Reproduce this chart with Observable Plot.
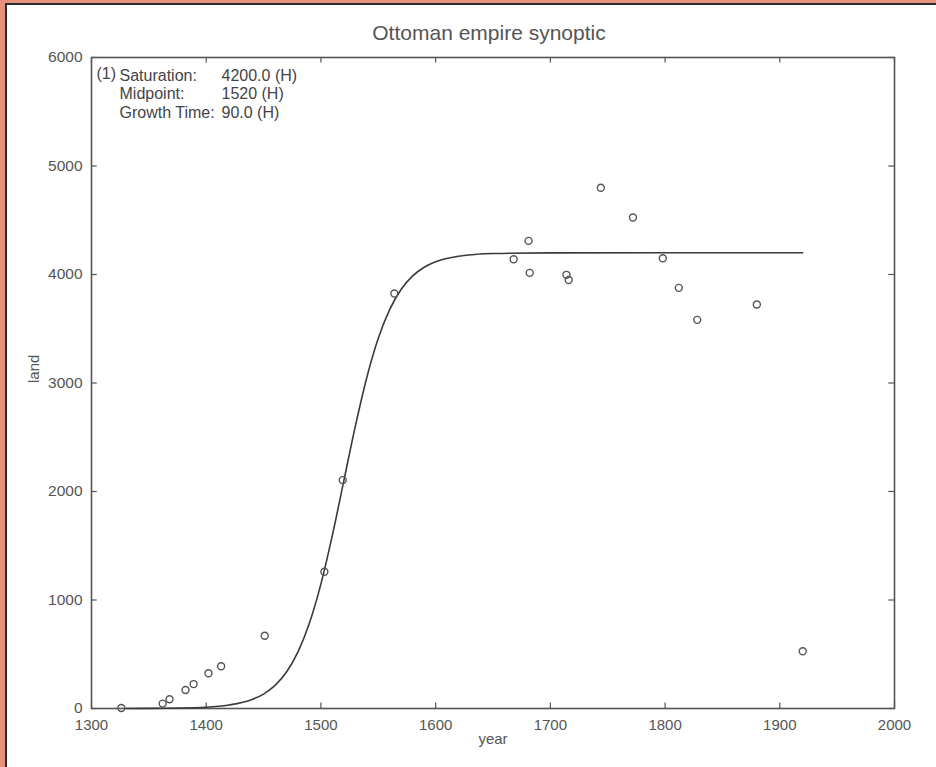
<!DOCTYPE html>
<html><head><meta charset="utf-8">
<script src="https://cdn.jsdelivr.net/npm/d3@7"></script>
<script src="https://cdn.jsdelivr.net/npm/@observablehq/plot@0.6"></script>
<style>
html,body{margin:0;padding:0;background:#fff;}
#page{position:relative;width:936px;height:767px;overflow:hidden;background:#fff;font-family:"Liberation Sans",Arial,sans-serif;}
#bt{position:absolute;left:0;top:0;width:936px;height:3px;background:#e6917a;}
#bl{position:absolute;left:0;top:0;width:5px;height:767px;background:#e6917a;}
#lt{position:absolute;left:5px;top:3px;width:931px;height:2px;background:#2a2a2a;}
#ll{position:absolute;left:5px;top:3px;width:2px;height:764px;background:#2a2a2a;}
#title{position:absolute;left:489px;top:21px;transform:translateX(-50%);font-size:21px;line-height:24px;color:#555;white-space:nowrap;}
#chart{position:absolute;left:0;top:45px;}
</style></head><body>
<div id="page">
  <div id="bt"></div><div id="bl"></div><div id="lt"></div><div id="ll"></div>
  <div id="title">Ottoman empire synoptic</div>
  <div id="chart"></div>
</div>
<script>
// observed data points (year, land)
const years = [1326, 1362, 1368, 1382, 1389, 1402, 1413, 1451, 1503, 1519, 1564, 1668, 1681, 1682, 1714, 1716, 1744, 1772, 1798, 1812, 1828, 1880, 1920];
const land  = [5, 45, 85, 170, 225, 325, 390, 670, 1260, 2105, 3825, 4140, 4310, 4015, 3997, 3950, 4800, 4525, 4150, 3877, 3582, 3724, 528];

// fitted logistic curve
const curveYears = [1330, 1350, 1400, 1420, 1440, 1450, 1460, 1470, 1480, 1490, 1500, 1510, 1520, 1530, 1540, 1550, 1560, 1570, 1580, 1590, 1600, 1620, 1650, 1700, 1800, 1920];
const curveLand  = [0, 1, 12, 32, 83, 133, 213, 336, 522, 788, 1149, 1598, 2100, 2602, 3051, 3412, 3678, 3864, 3987, 4067, 4117, 4168, 4193, 4199, 4200, 4200];

// axes
const xTicks = [1300, 1400, 1500, 1600, 1700, 1800, 1900, 2000];
const yTicks = [0, 1000, 2000, 3000, 4000, 5000, 6000];

// annotation
const annPrefix = "(1)";
const annLabels = ["Saturation:", "Midpoint:", "Growth Time:"];
const annValues = ["4200.0 (H)", "1520 (H)", "90.0 (H)"];

const xLabel = "year";
const yLabel = "land";

const points = years.map((x, i) => ({x, y: land[i]}));
const curve = curveYears.map((x, i) => ({x, y: curveLand[i]}));
const ink = "#555";

const plot = Plot.plot({
  width: 936, height: 722,
  marginLeft: 91, marginRight: 42, marginTop: 12, marginBottom: 59,
  style: {background: "transparent", fontFamily: "'Liberation Sans', Arial, sans-serif", color: ink, overflow: "visible"},
  x: {domain: [1300, 2000]},
  y: {domain: [0, 6000]},
  marks: [
    Plot.axisX(xTicks, {tickSize: 0, tickPadding: 11, fontSize: 15, label: null, tickFormat: d => String(d), fill: ink}),
    Plot.axisY(yTicks, {tickSize: 0, tickPadding: 9, fontSize: 15.5, label: null, tickFormat: d => String(d), fill: ink}),
    // inward tick marks on all four sides
    Plot.ruleX(xTicks, {x: d => d, y1: 0, y2: 50, stroke: ink, strokeWidth: 1.2}),
    Plot.ruleX(xTicks, {x: d => d, y1: 6000, y2: 5950, stroke: ink, strokeWidth: 1.2}),
    Plot.ruleY(yTicks, {y: d => d, x1: 1300, x2: 1305, stroke: ink, strokeWidth: 1.2}),
    Plot.ruleY(yTicks, {y: d => d, x1: 2000, x2: 1995, stroke: ink, strokeWidth: 1.2}),
    Plot.frame({stroke: ink, strokeWidth: 1.6}),
    Plot.line(curve, {x: "x", y: "y", stroke: "#3a3a3a", strokeWidth: 1.6, curve: "monotone-x"}),
    Plot.dot(points, {x: "x", y: "y", r: 3.5, stroke: ink, strokeWidth: 1.4, fill: "none"}),
    Plot.text([annPrefix], {text: d => d, frameAnchor: "top-left", dx: 5, dy: 10, fontSize: 16, fill: "#444"}),
    Plot.text([annLabels.join("\n")], {text: d => d, frameAnchor: "top-left", dx: 28, dy: 10, lineHeight: 1.16, fontSize: 16, fill: "#444"}),
    Plot.text([annValues.join("\n")], {text: d => d, frameAnchor: "top-left", dx: 130, dy: 10, lineHeight: 1.16, fontSize: 16, fill: "#444"}),
    Plot.text([xLabel], {text: d => d, frameAnchor: "bottom", dy: 35, fontSize: 15, fill: ink}),
    Plot.text([yLabel], {text: d => d, frameAnchor: "left", dx: -57, rotate: -90, fontSize: 15, fill: ink})
  ]
});
document.getElementById("chart").appendChild(plot);
</script>
</body></html>
